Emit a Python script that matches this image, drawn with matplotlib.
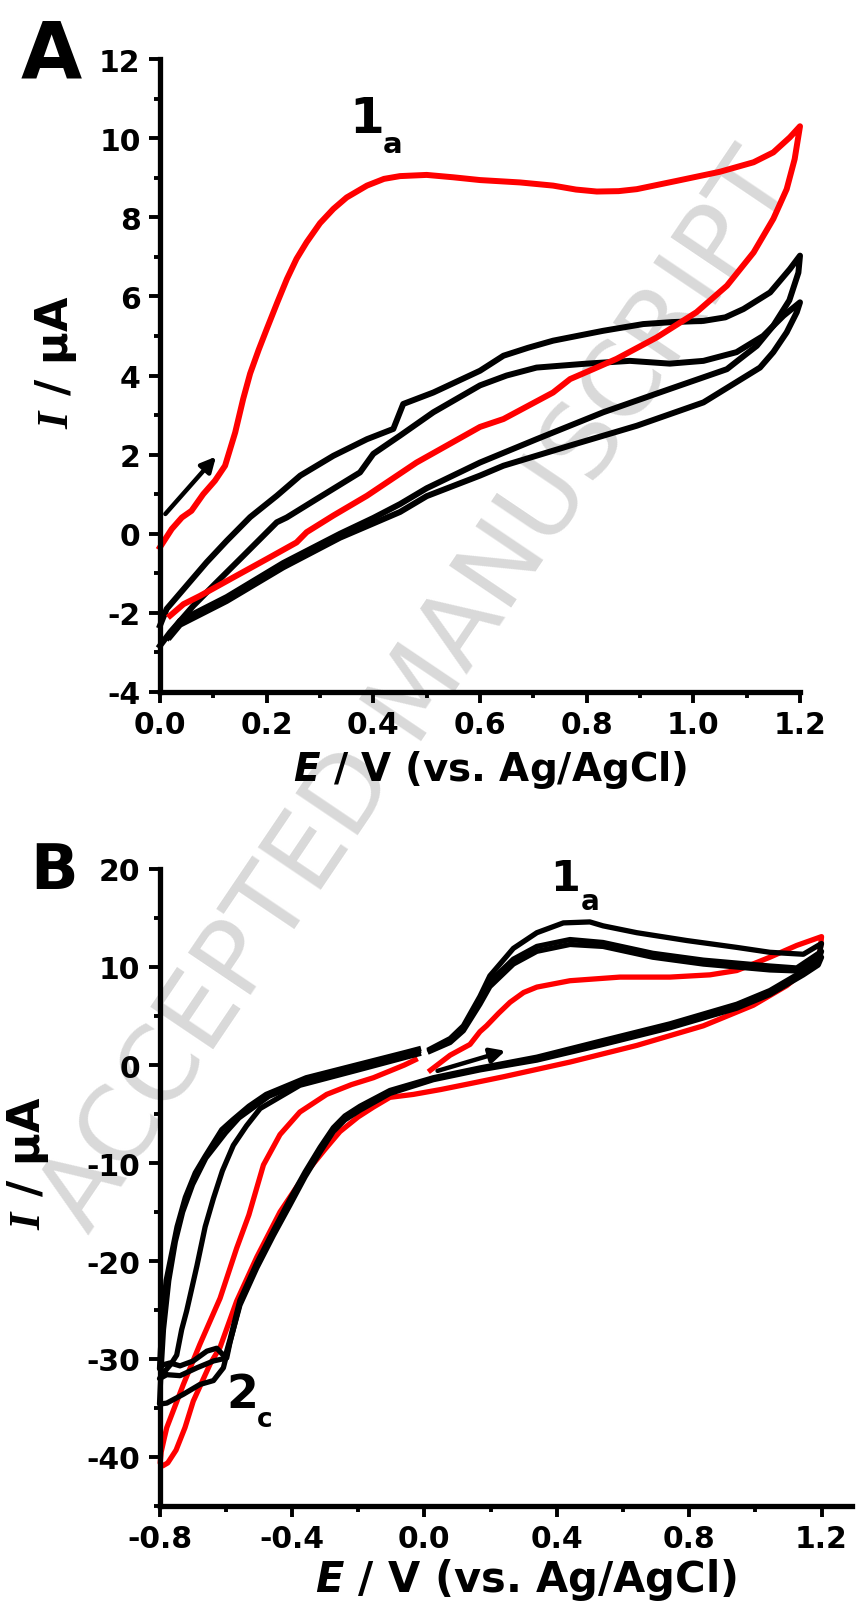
import matplotlib
matplotlib.use('Agg')
import matplotlib.pyplot as plt
from matplotlib.ticker import MultipleLocator, FormatStrFormatter

plt.rcParams['font.family'] = ['DejaVu Sans']
plt.rcParams['font.weight'] = 'bold'
plt.rcParams['axes.unicode_minus'] = False
plt.rcParams['mathtext.fontset'] = 'custom'
plt.rcParams['mathtext.rm'] = 'DejaVu Sans:bold'
plt.rcParams['mathtext.bf'] = 'DejaVu Sans:bold'
plt.rcParams['mathtext.it'] = 'DejaVu Sans:italic:bold'
plt.rcParams['mathtext.bfit'] = 'Liberation Serif:italic:bold'

# ---------------- panel A data (E / V, I / uA) ----------------
red_a_E = [0.0, 0.022, 0.041, 0.059, 0.081, 0.103, 0.122, 0.141, 0.156, 0.169, 0.185, 0.2,
           0.22, 0.238, 0.256, 0.275, 0.3, 0.325, 0.35, 0.388, 0.42, 0.45, 0.5, 0.55, 0.6,
           0.675, 0.737, 0.78, 0.819, 0.86, 0.894, 0.969, 1.05, 1.113, 1.15, 1.181, 1.2,
           1.19, 1.175, 1.15, 1.113, 1.063, 1.006, 0.931, 0.856, 0.812, 0.769, 0.737, 0.644,
           0.6, 0.481, 0.388, 0.325, 0.275, 0.256, 0.2, 0.138, 0.075, 0.044, 0.019]
red_a_I = [-0.34, 0.12, 0.41, 0.58, 1.0, 1.34, 1.72, 2.56, 3.41, 4.05, 4.65, 5.17,
           5.85, 6.44, 6.95, 7.37, 7.85, 8.21, 8.5, 8.8, 8.97, 9.04, 9.07, 9.01, 8.94,
           8.88, 8.8, 8.7, 8.65, 8.66, 8.71, 8.92, 9.15, 9.39, 9.64, 10.02, 10.3,
           9.47, 8.71, 7.96, 7.11, 6.27, 5.6, 4.96, 4.42, 4.16, 3.91, 3.57, 2.9,
           2.7, 1.8, 0.96, 0.46, 0.04, -0.22, -0.64, -1.1, -1.57, -1.78, -2.07]

blk1_a_E = [0.0, 0.0125, 0.05, 0.0875, 0.125, 0.169, 0.219, 0.263, 0.325, 0.388, 0.4375, 0.456,
            0.5125, 0.6, 0.644, 0.69, 0.737, 0.831, 0.906, 0.96, 1.019, 1.06, 1.094, 1.144,
            1.181, 1.2,
            1.197, 1.18, 1.15, 1.119, 1.0875, 1.063, 0.956, 0.831, 0.706, 0.6, 0.5, 0.45,
            0.4, 0.3375, 0.231, 0.125, 0.0375, 0.015]
blk1_a_I = [-2.32, -1.9, -1.31, -0.72, -0.18, 0.42, 0.96, 1.47, 1.97, 2.39, 2.65, 3.28,
            3.57, 4.12, 4.5, 4.7, 4.88, 5.13, 5.3, 5.35, 5.38, 5.47, 5.68, 6.1,
            6.69, 7.03,
            6.6, 5.9, 5.26, 4.75, 4.42, 4.16, 3.66, 3.07, 2.39, 1.8, 1.15, 0.75,
            0.4, 0.0, -0.74, -1.6, -2.2, -2.62]

blk2_a_E = [0.0, 0.019, 0.0625, 0.106, 0.156, 0.219, 0.2375, 0.294, 0.375, 0.4, 0.45, 0.5125,
            0.6, 0.65, 0.706, 0.8, 0.881, 0.956, 1.019, 1.081, 1.131, 1.169, 1.2,
            1.194, 1.175, 1.15, 1.125, 1.019, 0.894, 0.769, 0.644, 0.6, 0.5, 0.45, 0.3375,
            0.231, 0.125, 0.0375, 0.019]
blk2_a_I = [-2.83, -2.49, -1.82, -1.23, -0.56, 0.29, 0.41, 0.88, 1.55, 2.02, 2.48, 3.07,
            3.75, 4.0, 4.2, 4.3, 4.37, 4.3, 4.37, 4.59, 5.0, 5.51, 5.85,
            5.6, 5.09, 4.59, 4.2, 3.32, 2.73, 2.23, 1.72, 1.47, 0.95, 0.55, -0.1,
            -0.85, -1.7, -2.3, -2.6]

# ---------------- panel B data ----------------
red_b_E = [0.012, 0.078, 0.138, 0.168, 0.188, 0.225, 0.259, 0.3, 0.34, 0.44, 0.591, 0.742,
           0.863, 0.944, 1.044, 1.125, 1.2,
           1.195, 1.145, 1.095, 0.994, 0.843, 0.642, 0.44, 0.239, 0.138, 0.05, -0.033,
           -0.104, -0.154, -0.2, -0.255, -0.3, -0.355, -0.436, -0.506, -0.567, -0.617,
           -0.647, -0.698, -0.723, -0.75, -0.775, -0.79, -0.798,
           -0.795, -0.785, -0.778, -0.728, -0.678, -0.617, -0.567, -0.53, -0.486, -0.436,
           -0.376, -0.295, -0.22, -0.154, -0.06, -0.02]
red_b_I = [-0.7, 1.0, 2.1, 3.4, 4.0, 5.3, 6.4, 7.4, 7.95, 8.6, 8.97, 8.97,
           9.2, 9.64, 11.0, 12.2, 13.1,
           11.5, 9.5, 8.1, 6.1, 4.0, 2.0, 0.3, -1.2, -1.9, -2.5, -3.0,
           -3.3, -4.3, -5.3, -6.8, -8.6, -10.9, -15.0, -19.6, -24.1, -28.8,
           -30.5, -34.3, -37.0, -39.3, -40.6, -40.9, -40.6,
           -39.5, -38.0, -37.0, -32.6, -28.5, -23.8, -18.7, -15.3, -10.2, -7.1,
           -4.8, -3.0, -2.0, -1.3, 0.0, 0.65]

blk1_b_E = [0.01, 0.078, 0.118, 0.168, 0.198, 0.269, 0.34, 0.42, 0.5, 0.54, 0.642, 0.793,
            0.944, 1.044, 1.145, 1.2,
            1.19, 1.145, 1.044, 0.944, 0.742, 0.54, 0.34, 0.168, 0.027, -0.104, -0.194,
            -0.24, -0.275, -0.315, -0.36, -0.406, -0.456, -0.506, -0.557, -0.587, -0.602,
            -0.627, -0.657, -0.698, -0.738, -0.768, -0.79, -0.8,
            -0.797, -0.793, -0.78, -0.762, -0.747, -0.722, -0.692, -0.662, -0.612, -0.579,
            -0.53, -0.478, -0.357, -0.206, -0.055, -0.01]
blk1_b_I = [1.5, 2.7, 4.0, 7.0, 9.1, 11.9, 13.5, 14.5, 14.6, 14.2, 13.5, 12.7,
            12.0, 11.5, 11.3, 12.4,
            10.9, 9.6, 7.6, 6.2, 4.2, 2.5, 0.8, -0.3, -1.3, -2.6, -4.2,
            -5.2, -6.4, -8.4, -10.9, -13.7, -16.9, -20.2, -24.0, -28.0, -29.8,
            -28.9, -29.2, -30.2, -30.7, -30.4, -30.6, -31.0,
            -29.0, -26.9, -22.0, -19.0, -16.5, -13.5, -11.0, -9.3, -6.6, -5.6,
            -4.2, -3.0, -1.3, 0.0, 1.3, 1.7]

blk2_b_E = [0.01, 0.078, 0.118, 0.168, 0.198, 0.269, 0.34, 0.44, 0.54, 0.69, 0.843, 1.044,
            1.125, 1.2,
            1.19, 1.145, 1.044, 0.944, 0.742, 0.54, 0.34, 0.168, 0.027, -0.104, -0.194,
            -0.24, -0.275, -0.315, -0.36, -0.406, -0.456, -0.506, -0.557, -0.587, -0.597,
            -0.637, -0.687, -0.738, -0.778, -0.8,
            -0.79, -0.765, -0.748, -0.733, -0.718, -0.687, -0.662, -0.637, -0.61, -0.577,
            -0.537, -0.496, -0.376, -0.204, -0.053, -0.01]
blk2_b_I = [1.4, 2.5, 3.8, 6.6, 8.5, 10.8, 12.1, 12.8, 12.5, 11.4, 10.7, 10.1,
            9.9, 11.6,
            10.6, 9.4, 7.4, 6.0, 4.0, 2.3, 0.6, -0.4, -1.4, -2.8, -4.4,
            -5.4, -6.6, -8.6, -11.1, -14.0, -17.1, -20.4, -24.3, -28.3, -29.9,
            -30.2, -30.9, -31.7, -31.6, -32.0,
            -31.5, -30.5, -29.6, -27.0, -25.1, -20.5, -16.5, -13.6, -10.8, -8.2,
            -6.2, -4.44, -2.07, -0.54, 0.82, 1.2]

blk3_b_E = [0.01, 0.078, 0.118, 0.168, 0.198, 0.269, 0.34, 0.44, 0.54, 0.69, 0.843, 1.044,
            1.125, 1.2,
            1.19, 1.145, 1.044, 0.944, 0.742, 0.54, 0.34, 0.168, 0.027, -0.104, -0.194,
            -0.24, -0.275, -0.315, -0.36, -0.406, -0.456, -0.506, -0.557, -0.59, -0.607,
            -0.637, -0.678, -0.728, -0.778, -0.8,
            -0.795, -0.788, -0.772, -0.752, -0.73, -0.7, -0.66, -0.6, -0.56,
            -0.47, -0.35, -0.2, -0.053, -0.01]
blk3_b_I = [1.3, 2.3, 3.5, 6.2, 8.0, 10.3, 11.6, 12.3, 12.1, 11.0, 10.3, 9.7,
            9.6, 11.0,
            10.2, 9.2, 7.2, 5.8, 3.8, 2.1, 0.5, -0.5, -1.5, -2.9, -4.6,
            -5.6, -6.8, -8.9, -11.4, -14.3, -17.4, -20.7, -24.5, -28.6, -30.9,
            -32.2, -32.6, -33.6, -34.5, -34.6,
            -31.0, -27.0, -22.0, -18.0, -15.0, -12.2, -9.5, -6.9, -5.4,
            -3.2, -1.5, -0.2, 1.2, 1.5]

# scan direction arrows (tail, tip)
arrow_a = ((0.01, 0.5), (0.105, 1.95))
arrow_b = ((0.04, -0.6), (0.245, 1.45))

W, H = 857, 1608
fig = plt.figure(figsize=(W / 100, H / 100), dpi=100)
fig.patch.set_facecolor('white')


def px_box(x0, y0, x1, y1):
    return [x0 / W, 1 - y1 / H, (x1 - x0) / W, (y1 - y0) / H]


def ftext(x, y, s, **kw):
    fig.text(x / W, 1 - y / H, s, **kw)


def style(ax):
    for s in ['top', 'right']:
        ax.spines[s].set_visible(False)
    for s in ['left', 'bottom']:
        ax.spines[s].set_linewidth(3.8)
    ax.set_facecolor('none')
    ax.tick_params(which='major', direction='out', length=8, width=2.8, labelsize=21.5)
    ax.tick_params(which='minor', direction='out', length=4.5, width=2.8)
    ax.tick_params(axis='y', pad=6)
    ax.tick_params(axis='x', pad=5)


ylab = r'$\mathbfit{I}$ / μA'
xlab = r'$\mathit{E}$ / V (vs. Ag/AgCl)'

# ---------------- panel A ----------------
axA = fig.add_axes(px_box(160, 60, 800, 693))
style(axA)
axA.plot(blk1_a_E, blk1_a_I, color='black', lw=4.3, clip_on=False)
axA.plot(blk2_a_E, blk2_a_I, color='black', lw=4.3, clip_on=False)
axA.plot(red_a_E, red_a_I, color='red', lw=4.3, clip_on=False)
axA.annotate('', xy=arrow_a[1], xytext=arrow_a[0],
             arrowprops=dict(arrowstyle='-|>', color='black', lw=3.2, mutation_scale=22,
                             shrinkA=0, shrinkB=0))
axA.set_xlim(0, 1.2)
axA.set_ylim(-4, 12)
axA.xaxis.set_major_locator(MultipleLocator(0.2))
axA.xaxis.set_minor_locator(MultipleLocator(0.1))
axA.yaxis.set_major_locator(MultipleLocator(2))
axA.yaxis.set_minor_locator(MultipleLocator(1))
axA.xaxis.set_major_formatter(FormatStrFormatter('%.1f'))
axA.set_xlabel(xlab, fontsize=28, fontweight='bold', va='center')
axA.xaxis.set_label_coords(0.516, -0.122)
axA.set_ylabel(ylab, fontsize=32, fontweight='bold', va='center')
axA.yaxis.set_label_coords(-0.162, 0.523)

# ---------------- panel B ----------------
axB = fig.add_axes(px_box(159.5, 870, 852, 1507))
style(axB)
axB.plot(red_b_E, red_b_I, color='red', lw=3.8, clip_on=False, solid_capstyle='butt')
axB.plot(blk3_b_E, blk3_b_I, color='black', lw=3.8, clip_on=False, solid_capstyle='butt')
axB.plot(blk2_b_E, blk2_b_I, color='black', lw=3.8, clip_on=False, solid_capstyle='butt')
axB.plot(blk1_b_E, blk1_b_I, color='black', lw=3.8, clip_on=False, solid_capstyle='butt')
axB.annotate('', xy=arrow_b[1], xytext=arrow_b[0],
             arrowprops=dict(arrowstyle='-|>', color='black', lw=3.2, mutation_scale=22,
                             shrinkA=0, shrinkB=0))
axB.set_xlim(-0.8, 1.292)
axB.set_ylim(-45, 20)
axB.xaxis.set_major_locator(MultipleLocator(0.4))
axB.xaxis.set_minor_locator(MultipleLocator(0.2))
axB.yaxis.set_major_locator(MultipleLocator(10))
axB.yaxis.set_minor_locator(MultipleLocator(5))
axB.xaxis.set_major_formatter(FormatStrFormatter('%.1f'))
axB.set_xlabel(xlab, fontsize=30, fontweight='bold', va='center')
axB.xaxis.set_label_coords(0.529, -0.115)
axB.set_ylabel(ylab, fontsize=32, fontweight='bold', va='center')
axB.yaxis.set_label_coords(-0.19, 0.54)

# ---------------- annotations ----------------
ftext(51, 77, 'A', fontsize=57, ha='center', va='baseline')
ftext(54, 889, 'B', fontsize=45, ha='center', va='baseline')
ftext(367, 133, '1', fontsize=36, ha='center', va='baseline')
ftext(393, 153, 'a', fontsize=21, ha='center', va='baseline')
ftext(565, 891, '1', fontsize=31, ha='center', va='baseline')
ftext(590, 910, 'a', fontsize=20, ha='center', va='baseline')
ftext(242, 1408, '2', fontsize=33, ha='center', va='baseline')
ftext(265, 1427, 'c', fontsize=19, ha='center', va='baseline')

# watermark behind everything
ftext(420, 693, 'ACCEPTED MANUSCRIPT', fontsize=75, color='#d9d9d9', fontweight='normal',
      rotation=56, rotation_mode='anchor', ha='center', va='center', zorder=-1)

fig.savefig('out.png', dpi=100)
